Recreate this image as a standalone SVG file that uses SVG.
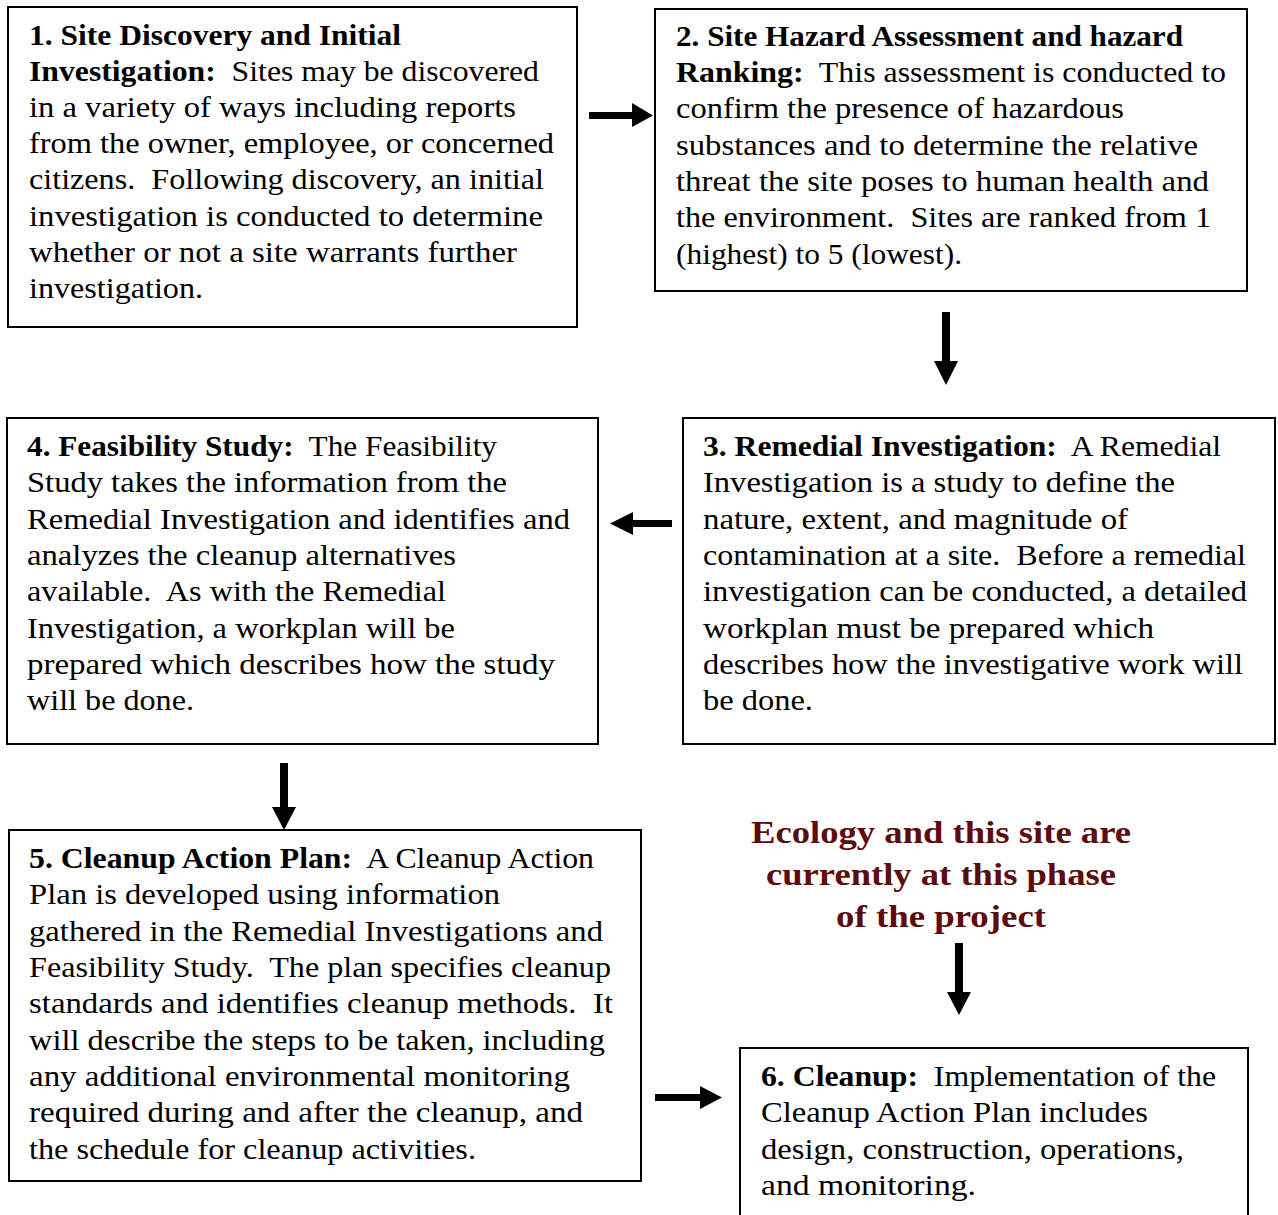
<svg xmlns="http://www.w3.org/2000/svg" width="1278" height="1215" viewBox="0 0 1278 1215">
<style>
.box{fill:#fff;stroke:#000;stroke-width:2}
.t{font-family:"Liberation Serif","Times New Roman",serif;font-size:30px;fill:#000;white-space:pre}
.b{font-weight:bold}
.red{font-family:"Liberation Serif","Times New Roman",serif;font-size:32px;font-weight:bold;fill:#5e0b0b;text-anchor:middle}
.arr{fill:#000}
</style>
<rect width="1278" height="1215" fill="#fff"/>
<g id="node1">
<rect class="box" x="8" y="7" width="569" height="320"/>
<text class="t" x="29" y="45" textLength="372" lengthAdjust="spacingAndGlyphs"><tspan class="b">1. Site Discovery and Initial</tspan></text>
<text class="t" x="29" y="81" textLength="510" lengthAdjust="spacingAndGlyphs"><tspan class="b">Investigation:</tspan>  Sites may be discovered</text>
<text class="t" x="29" y="117" textLength="487" lengthAdjust="spacingAndGlyphs">in a variety of ways including reports</text>
<text class="t" x="29" y="153" textLength="525" lengthAdjust="spacingAndGlyphs">from the owner, employee, or concerned</text>
<text class="t" x="29" y="189" textLength="515" lengthAdjust="spacingAndGlyphs">citizens.  Following discovery, an initial</text>
<text class="t" x="29" y="226" textLength="514" lengthAdjust="spacingAndGlyphs">investigation is conducted to determine</text>
<text class="t" x="29" y="262" textLength="488" lengthAdjust="spacingAndGlyphs">whether or not a site warrants further</text>
<text class="t" x="29" y="298" textLength="174" lengthAdjust="spacingAndGlyphs">investigation.</text>
</g>
<g id="node2">
<rect class="box" x="655" y="9" width="592" height="282"/>
<text class="t" x="676" y="46" textLength="507" lengthAdjust="spacingAndGlyphs"><tspan class="b">2. Site Hazard Assessment and hazard</tspan></text>
<text class="t" x="676" y="82" textLength="550" lengthAdjust="spacingAndGlyphs"><tspan class="b">Ranking:</tspan>  This assessment is conducted to</text>
<text class="t" x="676" y="118" textLength="448" lengthAdjust="spacingAndGlyphs">confirm the presence of hazardous</text>
<text class="t" x="676" y="155" textLength="522" lengthAdjust="spacingAndGlyphs">substances and to determine the relative</text>
<text class="t" x="676" y="191" textLength="533" lengthAdjust="spacingAndGlyphs">threat the site poses to human health and</text>
<text class="t" x="676" y="227" textLength="535" lengthAdjust="spacingAndGlyphs">the environment.  Sites are ranked from 1</text>
<text class="t" x="676" y="264" textLength="286" lengthAdjust="spacingAndGlyphs">(highest) to 5 (lowest).</text>
</g>
<g id="node3">
<rect class="box" x="683" y="418" width="592" height="326"/>
<text class="t" x="703" y="456" textLength="518" lengthAdjust="spacingAndGlyphs"><tspan class="b">3. Remedial Investigation:</tspan>  A Remedial</text>
<text class="t" x="703" y="492" textLength="472" lengthAdjust="spacingAndGlyphs">Investigation is a study to define the</text>
<text class="t" x="703" y="529" textLength="425" lengthAdjust="spacingAndGlyphs">nature, extent, and magnitude of</text>
<text class="t" x="703" y="565" textLength="543" lengthAdjust="spacingAndGlyphs">contamination at a site.  Before a remedial</text>
<text class="t" x="703" y="601" textLength="544" lengthAdjust="spacingAndGlyphs">investigation can be conducted, a detailed</text>
<text class="t" x="703" y="638" textLength="451" lengthAdjust="spacingAndGlyphs">workplan must be prepared which</text>
<text class="t" x="703" y="674" textLength="540" lengthAdjust="spacingAndGlyphs">describes how the investigative work will</text>
<text class="t" x="703" y="710" textLength="110" lengthAdjust="spacingAndGlyphs">be done.</text>
</g>
<g id="node4">
<rect class="box" x="7" y="418" width="591" height="326"/>
<text class="t" x="27" y="456" textLength="470" lengthAdjust="spacingAndGlyphs"><tspan class="b">4. Feasibility Study:</tspan>  The Feasibility</text>
<text class="t" x="27" y="492" textLength="480" lengthAdjust="spacingAndGlyphs">Study takes the information from the</text>
<text class="t" x="27" y="529" textLength="543" lengthAdjust="spacingAndGlyphs">Remedial Investigation and identifies and</text>
<text class="t" x="27" y="565" textLength="429" lengthAdjust="spacingAndGlyphs">analyzes the cleanup alternatives</text>
<text class="t" x="27" y="601" textLength="419" lengthAdjust="spacingAndGlyphs">available.  As with the Remedial</text>
<text class="t" x="27" y="638" textLength="428" lengthAdjust="spacingAndGlyphs">Investigation, a workplan will be</text>
<text class="t" x="27" y="674" textLength="528" lengthAdjust="spacingAndGlyphs">prepared which describes how the study</text>
<text class="t" x="27" y="710" textLength="167" lengthAdjust="spacingAndGlyphs">will be done.</text>
</g>
<g id="node5">
<rect class="box" x="9" y="830" width="632" height="351"/>
<text class="t" x="29" y="868" textLength="565" lengthAdjust="spacingAndGlyphs"><tspan class="b">5. Cleanup Action Plan:</tspan>  A Cleanup Action</text>
<text class="t" x="29" y="904" textLength="471" lengthAdjust="spacingAndGlyphs">Plan is developed using information</text>
<text class="t" x="29" y="941" textLength="574" lengthAdjust="spacingAndGlyphs">gathered in the Remedial Investigations and</text>
<text class="t" x="29" y="977" textLength="582" lengthAdjust="spacingAndGlyphs">Feasibility Study.  The plan specifies cleanup</text>
<text class="t" x="29" y="1013" textLength="584" lengthAdjust="spacingAndGlyphs">standards and identifies cleanup methods.  It</text>
<text class="t" x="29" y="1050" textLength="576" lengthAdjust="spacingAndGlyphs">will describe the steps to be taken, including</text>
<text class="t" x="29" y="1086" textLength="541" lengthAdjust="spacingAndGlyphs">any additional environmental monitoring</text>
<text class="t" x="29" y="1122" textLength="554" lengthAdjust="spacingAndGlyphs">required during and after the cleanup, and</text>
<text class="t" x="29" y="1159" textLength="447" lengthAdjust="spacingAndGlyphs">the schedule for cleanup activities.</text>
</g>
<g id="node6">
<rect class="box" x="740" y="1048" width="508" height="180"/>
<text class="t" x="761" y="1086" textLength="455" lengthAdjust="spacingAndGlyphs"><tspan class="b">6. Cleanup:</tspan>  Implementation of the</text>
<text class="t" x="761" y="1122" textLength="387" lengthAdjust="spacingAndGlyphs">Cleanup Action Plan includes</text>
<text class="t" x="761" y="1159" textLength="423" lengthAdjust="spacingAndGlyphs">design, construction, operations,</text>
<text class="t" x="761" y="1195" textLength="215" lengthAdjust="spacingAndGlyphs">and monitoring.</text>
</g>
<g id="note">
<text class="red" x="941" y="843" textLength="380" lengthAdjust="spacingAndGlyphs">Ecology and this site are</text>
<text class="red" x="941" y="885" textLength="350" lengthAdjust="spacingAndGlyphs">currently at this phase</text>
<text class="red" x="941" y="927" textLength="210" lengthAdjust="spacingAndGlyphs">of the project</text>
</g>
<g id="connectors">
<polygon class="arr" points="589,112 632,112 632,103 653,115.5 632,127 632,119 589,119"/>
<polygon class="arr" points="942,312 950,312 950,361 958,361 946,385 934,361 942,361"/>
<polygon class="arr" points="672,520 633,520 633,512 610,523.5 633,535 633,527 672,527"/>
<polygon class="arr" points="280,763 288,763 288,807 296,807 284,830 272,807 280,807"/>
<polygon class="arr" points="655,1094 700,1094 700,1086 722,1097.5 700,1109 700,1101 655,1101"/>
<polygon class="arr" points="955,943 963,943 963,992 971,992 959,1015 947,992 955,992"/>
</g>
</svg>
